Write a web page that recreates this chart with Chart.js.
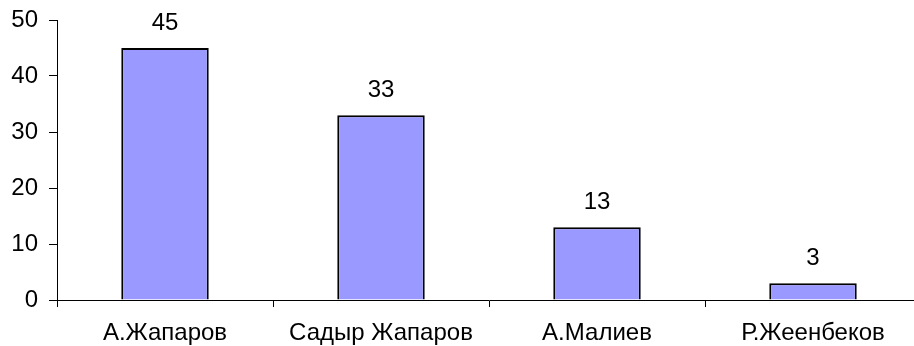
<!DOCTYPE html>
<html>
<head>
<meta charset="utf-8">
<script src="https://cdn.jsdelivr.net/npm/chart.js@4/dist/chart.umd.min.js"></script>
<style>
  html, body { margin: 0; padding: 0; background: #fff; overflow: hidden; }
  #wrap { width: 921px; height: 346px; }
</style>
</head>
<body>
<div id="wrap"><canvas id="grafica"></canvas></div>
<script>
var candidatos = ['А.Жапаров', 'Садыр Жапаров', 'А.Малиев', 'Р.Жеенбеков'];
var votos = [45, 33, 13, 3];

// etiquetas encima de cada barra
var etiquetas = {
    id: 'etiquetas',
    afterDatasetsDraw: function (chart) {
        var ctx = chart.ctx;
        var meta = chart.getDatasetMeta(0);
        ctx.save();
        ctx.fillStyle = '#000';
        ctx.font = '24px "Liberation Sans", Arial, sans-serif';
        ctx.textAlign = 'center';
        ctx.textBaseline = 'alphabetic';
        meta.data.forEach(function (bar, i) {
            ctx.fillText(chart.data.datasets[0].data[i], bar.x, bar.y - 18);
        });
        ctx.restore();
    }
};

Chart.defaults.font.family = '"Liberation Sans", Arial, sans-serif';
Chart.defaults.font.size = 24;
Chart.defaults.color = '#000';

var ctx = document.getElementById('grafica').getContext('2d');
var myChart = new Chart(ctx, {
    type: 'bar',
    data: {
        labels: candidatos,
        datasets: [{
            data: votos,
            backgroundColor: '#9999ff',
            borderColor: '#000',
            borderWidth: 2,
            categoryPercentage: 1,
            barPercentage: 0.405
        }]
    },
    options: {
        responsive: true,
        maintainAspectRatio: false,
        animation: false,
        layout: {
            padding: { top: 20, left: 0, right: 0, bottom: 0 }
        },
        plugins: {
            legend: { display: false },
            tooltip: { enabled: false }
        },
        scales: {
            x: {
                border: { color: '#000', width: 1 },
                grid: {
                    drawOnChartArea: false,
                    color: '#000',
                    tickLength: 7,
                    offset: true
                },
                ticks: { padding: 12, maxRotation: 0 },
                afterFit: function (scale) {
                    scale.height = 46;
                    scale.paddingLeft = 0;
                    scale.paddingRight = 0;
                }
            },
            y: {
                min: 0,
                max: 50,
                border: { color: '#000', width: 1 },
                grid: {
                    drawOnChartArea: false,
                    color: '#000',
                    tickLength: 8
                },
                ticks: { stepSize: 10, padding: 11 },
                afterFit: function (scale) {
                    scale.width = 57;
                    scale.paddingTop = 0;
                    scale.paddingBottom = 0;
                }
            }
        }
    },
    plugins: [etiquetas]
});
</script>
</body>
</html>
